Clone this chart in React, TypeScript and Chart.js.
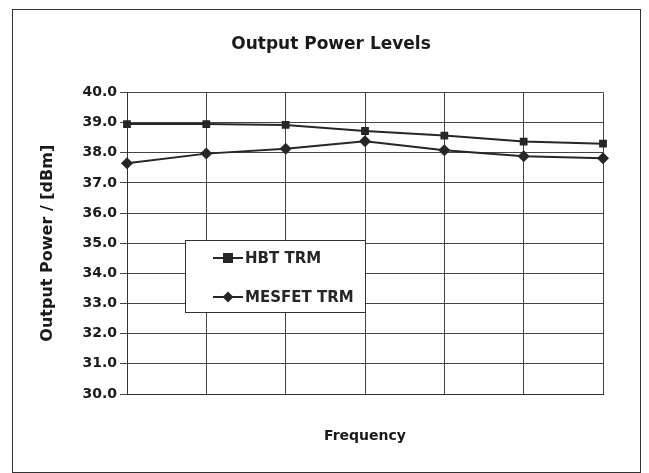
import React, { useEffect, useRef } from "react";
import { Chart, registerables } from "chart.js";

Chart.register(...registerables);

const categories = ["f1", "f2", "f3", "f4", "f5", "f6", "f7"];
const hbtValues = [38.95, 38.95, 38.92, 38.72, 38.57, 38.37, 38.3];
const mesfetValues = [37.65, 37.97, 38.13, 38.38, 38.08, 37.88, 37.82];
const seriesLabels = ["HBT TRM", "MESFET TRM"];
const yMin = 30;
const yMax = 40;

const INK = "#262626";
const FONT = "'DejaVu Sans', 'Liberation Sans', Arial, sans-serif";

const framePlugin = {
  id: "frame",
  beforeDraw(chart: any) {
    const ctx = chart.ctx;
    ctx.save();
    ctx.fillStyle = "#ffffff";
    ctx.fillRect(0, 0, chart.width, chart.height);
    ctx.strokeStyle = "#333";
    ctx.lineWidth = 1;
    ctx.strokeRect(12.5, 9.5, 628, 463);
    ctx.restore();
  },
};

const boxLegendPlugin = {
  id: "boxLegend",
  afterDatasetsDraw(chart: any) {
    const ctx = chart.ctx;
    const x0 = 185, y0 = 240, w = 180, h = 72;
    ctx.save();
    ctx.fillStyle = "#ffffff";
    ctx.fillRect(x0, y0, w, h);
    ctx.strokeStyle = "#333";
    ctx.lineWidth = 1;
    ctx.strokeRect(x0 + 0.5, y0 + 0.5, w, h);
    const rows = [258, 297];
    chart.data.datasets.forEach((ds: any, i: number) => {
      const y = rows[i];
      ctx.strokeStyle = INK;
      ctx.lineWidth = 2;
      ctx.beginPath();
      ctx.moveTo(213, y);
      ctx.lineTo(243, y);
      ctx.stroke();
      ctx.fillStyle = INK;
      const cx = 228;
      if (ds.pointStyle === "rect") {
        ctx.fillRect(cx - 5, y - 5, 10, 10);
      } else {
        ctx.beginPath();
        ctx.moveTo(cx, y - 5.5);
        ctx.lineTo(cx + 5.5, y);
        ctx.lineTo(cx, y + 5.5);
        ctx.lineTo(cx - 5.5, y);
        ctx.closePath();
        ctx.fill();
      }
      ctx.font = "bold 15px " + FONT;
      ctx.textBaseline = "middle";
      ctx.textAlign = "left";
      ctx.fillText(ds.label, 245, y + 1);
    });
    ctx.restore();
  },
};

export default function App() {
  const ref = useRef<HTMLCanvasElement | null>(null);

  useEffect(() => {
    document.body.style.margin = "0";
    const canvas = ref.current;
    if (!canvas) return;
    const chart = new Chart(canvas, {
      type: "line",
      data: {
        labels: categories,
        datasets: [
          {
            label: seriesLabels[0],
            data: hbtValues,
            borderColor: INK,
            backgroundColor: INK,
            borderWidth: 2,
            pointStyle: "rect",
            pointRadius: 5.5,
            pointBorderWidth: 0,
            tension: 0,
          },
          {
            label: seriesLabels[1],
            data: mesfetValues,
            borderColor: INK,
            backgroundColor: INK,
            borderWidth: 2,
            pointStyle: "rectRot",
            pointRadius: 6,
            pointBorderWidth: 0,
            tension: 0,
          },
        ],
      },
      options: {
        animation: false,
        responsive: false,
        devicePixelRatio: 1,
        layout: { padding: { left: 59, right: 46, top: 0, bottom: 0 } },
        plugins: {
          legend: { display: false },
          tooltip: { enabled: false },
          title: {
            display: true,
            text: "Output Power Levels",
            color: "#1a1a1a",
            font: { family: FONT, size: 17, weight: "bold" },
            padding: { top: 34, bottom: 38 },
          },
        },
        scales: {
          x: {
            type: "category",
            offset: false,
            ticks: { display: false },
            grid: { color: "#444", lineWidth: 1, drawTicks: false },
            border: { color: "#333", width: 1 },
            title: {
              display: true,
              text: "Frequency",
              color: "#1a1a1a",
              font: { family: FONT, size: 14, weight: "bold" },
              padding: { top: 0, bottom: 28 },
            },
            afterFit(s: any) {
              s.height = 79;
            },
          },
          y: {
            min: yMin,
            max: yMax,
            ticks: {
              stepSize: 1,
              color: "#1a1a1a",
              padding: 3,
              font: { family: FONT, size: 14, weight: "bold" },
              callback: (v: any) => Number(v).toFixed(1),
            },
            grid: { color: "#444", lineWidth: 1, tickLength: 7 },
            border: { color: "#333", width: 1 },
            title: {
              display: true,
              text: "Output Power / [dBm]",
              color: "#1a1a1a",
              font: { family: FONT, size: 16, weight: "bold" },
              padding: { top: -21, bottom: 0 },
            },
            afterFit(s: any) {
              s.width = 68;
            },
          },
        },
      },
      plugins: [framePlugin, boxLegendPlugin],
    } as any);
    return () => chart.destroy();
  }, []);

  return (
    <div style={{ position: "absolute", left: 0, top: 0, width: 649, height: 473 }}>
      <canvas ref={ref} width={649} height={473} style={{ width: 649, height: 473 }} />
    </div>
  );
}
